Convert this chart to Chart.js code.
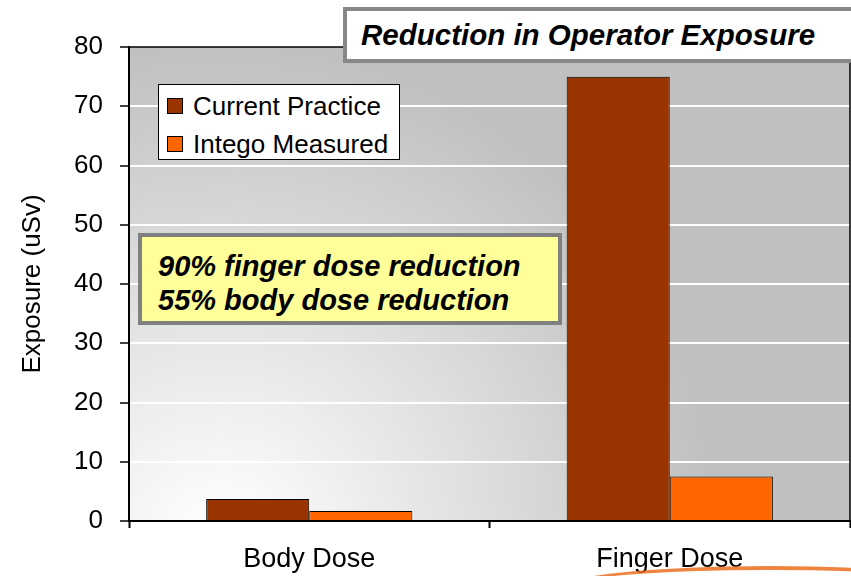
<!DOCTYPE html>
<html>
<head>
<meta charset="utf-8">
<script src="https://cdn.jsdelivr.net/npm/chart.js@4.4.1/dist/chart.umd.min.js"></script>
<style>
    body { margin: 0; background: #fff; }
    #wrap { position: relative; width: 851px; height: 576px; overflow: hidden; font-family: "Liberation Sans", Arial, sans-serif; }
    #titleBox {
        position: absolute; left: 343px; top: 7px; width: 492px; height: 48px;
        border: 4px solid #888; background: #fff;
        font-weight: bold; font-style: italic; font-size: 29.5px; line-height: 48px;
        padding-left: 14px; color: #000; white-space: nowrap;
    }
    #noteBox {
        position: absolute; left: 138px; top: 233px; width: 424px; height: 92px;
        border: 4px solid #808080; background: #ffff99; box-sizing: border-box;
        font-weight: bold; font-style: italic; font-size: 29px; line-height: 34px;
        padding: 12px 0 0 16px; color: #000; white-space: nowrap;
    }
    #legend {
        position: absolute; left: 158px; top: 84px; width: 242px; height: 76px;
        border: 1px solid #000; background: #fff; box-sizing: border-box;
        font-size: 26px; color: #000;
    }
    #legend .row { position: absolute; left: 8px; height: 30px; line-height: 30px; white-space: nowrap; }
    #legend .sw { display: inline-block; width: 14px; height: 14px; border: 1px solid #000; margin-right: 10px; vertical-align: 1px; }
    #swoosh {
        position: absolute; left: 560px; top: 566px; width: 420px; height: 40px;
        border-radius: 50%; border-top: 4px solid rgba(235, 110, 30, 0.85);
    }
</style>
</head>
<body>
<div id="wrap">
    <canvas id="chart" width="851" height="576"></canvas>
    <div id="legend"></div>
    <div id="noteBox">90% finger dose reduction<br>55% body dose reduction</div>
    <div id="titleBox">Reduction in Operator Exposure</div>
    <div id="swoosh"></div>
</div>
<script>
    // datos
    const categories = ['Body Dose', 'Finger Dose'];
    const currentPractice = [3.7, 75];
    const integoMeasured = [1.7, 7.5];
    const seriesNames = ['Current Practice', 'Intego Measured'];
    const seriesColors = ['#993300', '#ff6600'];
    const yTicks = [0, 10, 20, 30, 40, 50, 60, 70, 80];

    const FONT = '"Liberation Sans", Arial, sans-serif';

    // fondo degradado del área del gráfico + borde superior/derecho
    const plotBackground = {
        id: 'plotBackground',
        beforeDraw(chart) {
            const { ctx, chartArea: a } = chart;
            ctx.save();
            const g = ctx.createRadialGradient(a.left + 90, a.bottom + 20, 0, a.left + 90, a.bottom + 20, 500);
            g.addColorStop(0, '#ffffff');
            g.addColorStop(0.1, '#fafafa');
            g.addColorStop(1, '#c0c0c0');
            ctx.fillStyle = g;
            ctx.fillRect(a.left, a.top, a.right - a.left, a.bottom - a.top);
            ctx.restore();
        },
        afterDraw(chart) {
            const { ctx, chartArea: a } = chart;
            ctx.save();
            ctx.strokeStyle = '#000';
            ctx.lineWidth = 1.5;
            ctx.beginPath();
            ctx.moveTo(a.left, a.top);
            ctx.lineTo(a.right, a.top);
            ctx.lineTo(a.right, a.bottom);
            ctx.stroke();
            ctx.restore();
        }
    };

    const chart = new Chart(document.getElementById('chart'), {
        type: 'bar',
        data: {
            labels: categories,
            datasets: [
                { label: seriesNames[0], data: currentPractice, backgroundColor: seriesColors[0] },
                { label: seriesNames[1], data: integoMeasured, backgroundColor: seriesColors[1] }
            ]
        },
        options: {
            responsive: false,
            animation: false,
            layout: { padding: { top: 47, right: 1, left: 0, bottom: 0 } },
            datasets: {
                bar: {
                    borderColor: '#000',
                    borderWidth: 1,
                    categoryPercentage: 0.572,
                    barPercentage: 1
                }
            },
            plugins: {
                legend: { display: false },
                tooltip: { enabled: false }
            },
            scales: {
                x: {
                    afterFit: (scale) => { scale.height = 55; },
                    grid: {
                        offset: true,
                        drawOnChartArea: false,
                        tickColor: '#000',
                        tickLength: 7,
                        tickWidth: 2
                    },
                    border: { color: '#000', width: 2 },
                    ticks: { color: '#000', padding: 15, font: { family: FONT, size: 27 } }
                },
                y: {
                    min: yTicks[0],
                    max: yTicks[yTicks.length - 1],
                    afterFit: (scale) => { scale.width = 129; },
                    afterBuildTicks: (scale) => { scale.ticks = yTicks.map(v => ({ value: v })); },
                    grid: {
                        color: (c) => (c.tick && c.tick.value > 0 && c.tick.value < 80) ? '#ffffff' : 'rgba(0,0,0,0)',
                        lineWidth: 2,
                        tickColor: '#000',
                        tickLength: 9,
                        tickWidth: 1.5
                    },
                    border: { color: '#000', width: 2 },
                    ticks: { color: '#000', padding: 17, font: { family: FONT, size: 26 } },
                    title: {
                        display: true,
                        text: 'Exposure (uSv)',
                        color: '#000',
                        padding: { top: 17, bottom: 0 },
                        font: { family: FONT, size: 26 }
                    }
                }
            }
        },
        plugins: [plotBackground]
    });

    // leyenda HTML a partir de los datasets
    const legendEl = document.getElementById('legend');
    chart.data.datasets.forEach((ds, i) => {
        const row = document.createElement('div');
        row.className = 'row';
        row.style.top = (6 + i * 38) + 'px';
        row.innerHTML = `<span class="sw" style="background:${ds.backgroundColor}"></span>${ds.label}`;
        legendEl.appendChild(row);
    });
</script>
</body>
</html>
